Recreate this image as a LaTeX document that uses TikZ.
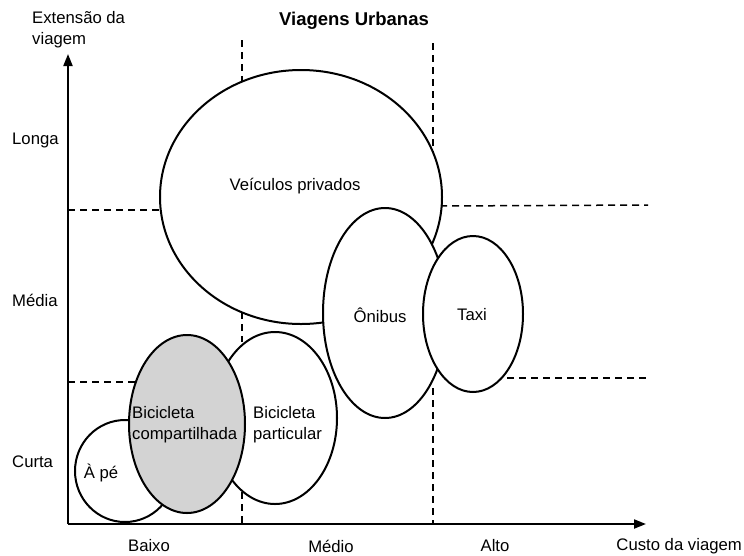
\documentclass[tikz,border=0pt]{standalone}
\usepackage{fontspec}
\setmainfont{Liberation Sans}
\usetikzlibrary{shapes.geometric,arrows.meta}
\definecolor{bikegray}{HTML}{D3D3D3}
\begin{document}
\begin{tikzpicture}[x=1pt,y=-1pt,
  blob/.style={draw,line width=2pt,fill=white,ellipse,inner sep=0pt},
  guide/.style={line width=1.5pt,dash pattern=on 7pt off 5pt},
  axisline/.style={line width=2pt,-{Triangle[length=12pt,width=9pt]}},
  lbl/.style={font=\fontsize{16.7}{21}\selectfont,inner sep=0pt},
  mlbl/.style={lbl,align=left,anchor=north west}]
\useasboundingbox (0,0) rectangle (744,555);
% guide lines
\draw[guide] (242,40) -- (242,82);
\draw[guide] (242,312) -- (242,342);
\draw[guide] (242,492) -- (242,524);
\draw[guide] (433,43) -- (433,160);
\draw[guide] (433,388) -- (433,524);
\draw[guide] (68,210) -- (162,210);
\draw[guide] (440,206) -- (648,205);
\draw[guide] (68,382) -- (135,382);
\draw[guide] (495,378) -- (648,378);
% ellipses
\node[blob,minimum width=282pt,minimum height=254pt] (veic) at (301,197) {};
\node[blob,minimum width=124pt,minimum height=210pt] (onib) at (385,313) {};
\node[blob,minimum width=100pt,minimum height=156pt] (taxi) at (473,314) {};
\node[blob,minimum width=100pt,minimum height=102pt] (ape) at (125,471) {};
\node[blob,minimum width=124pt,minimum height=172pt] (bpart) at (275,418) {};
\node[blob,fill=bikegray,minimum width=116pt,minimum height=178pt] (bcomp) at (187,424) {};
% axes
\coordinate (orig) at (68,524);
\coordinate (ytip) at (68,54);
\coordinate (xtip) at (646,524);
\draw[axisline] (orig) -- (ytip);
\draw[axisline] (orig) -- (xtip);
% texts
\node[lbl,font=\fontsize{18.5}{22}\selectfont\bfseries] (title) at (354,21) {Viagens Urbanas};
\node[mlbl] (ylab) at (32,11) {Extensão da\\viagem};
\node[lbl,anchor=west] (longa) at (12,140) {Longa};
\node[lbl,anchor=west] (media) at (12,300) {Média};
\node[lbl,anchor=west] (curta) at (12,462) {Curta};
\node[lbl] (baixo) at (149,546) {Baixo};
\node[lbl] (medio) at (331,546) {Médio};
\node[lbl] (alto) at (495,546) {Alto};
\node[lbl,anchor=east] (xlab) at (742,546) {Custo da viagem};
\node[lbl] (tveic) at (295,186) {Veículos privados};
\node[lbl] (tonib) at (380,315) {Ônibus};
\node[lbl] (ttaxi) at (472,315) {Taxi};
\node[lbl] (tape) at (101,473) {À pé};
\node[mlbl] (tbcomp) at (132,406) {Bicicleta\\compartilhada};
\node[mlbl] (tbpart) at (253,406) {Bicicleta\\particular};
\end{tikzpicture}
\end{document}
